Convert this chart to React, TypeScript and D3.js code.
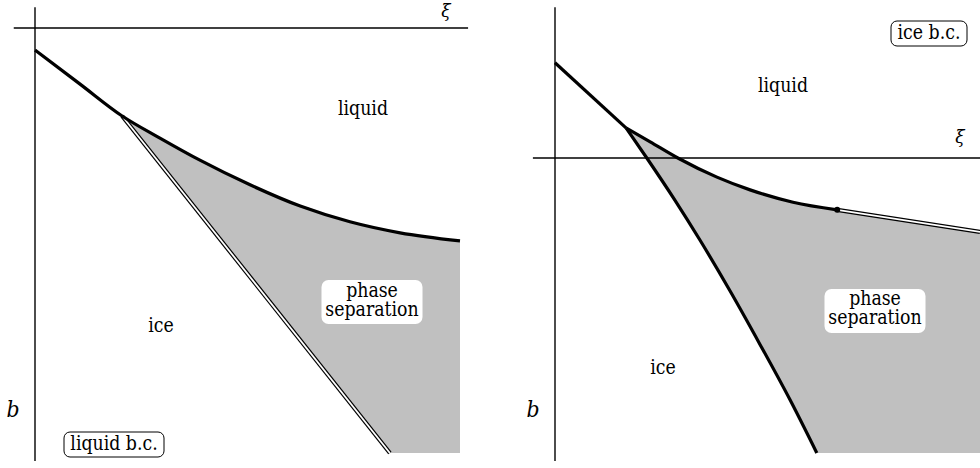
import { useEffect, useRef } from 'react';
import * as d3 from 'd3';

type Pt = [number, number];

// left panel (liquid boundary condition), coordinates in (xi, b) units
const leftLiquidus: Pt[] = [
  [0, 0.052], [0.106, 0.132], [0.205, 0.207], [0.294, 0.259], [0.388, 0.311],
  [0.506, 0.369], [0.624, 0.419], [0.741, 0.456], [0.859, 0.482], [1.0, 0.501],
];
const leftTangentIdx = 2;
const leftSolidus: Pt[] = [[0.205, 0.207], [0.835, 1.0]];
const leftFloor = 1.0;

// right panel (ice boundary condition)
const rightLiquidusA: Pt[] = [[0, -0.224], [0.167, -0.071]];
const rightLiquidusB: Pt[] = [
  [0.167, -0.071], [0.224, -0.038], [0.289, 0], [0.381, 0.045], [0.459, 0.075],
  [0.56, 0.104], [0.664, 0.122],
];
const rightMetastable: Pt[] = [[0.664, 0.122], [1.0, 0.174]];
const rightSolidus: Pt[] = [
  [0.167, -0.071], [0.216, 0], [0.282, 0.099], [0.341, 0.193], [0.412, 0.313],
  [0.482, 0.438], [0.553, 0.569], [0.616, 0.694],
];
const rightFloor = 0.694;

const FONT = '"DejaVu Serif", "Noto Serif", serif';
const GREY = '#c0c0c0';

export default function App() {
  const ref = useRef<SVGSVGElement>(null);

  useEffect(() => {
    if (!ref.current) return;
    const svg = d3.select(ref.current);
    svg.selectAll('*').remove();

    const unit = 425;

    const panel = (ox: number, oy: number, xExt: Pt, yExt: Pt) => {
      const x = d3.scaleLinear().domain([0, 1]).range([ox, ox + unit]);
      const y = d3.scaleLinear().domain([0, 1]).range([oy, oy + unit]);
      const g = svg.append('g');
      const line = d3
        .line<Pt>()
        .x((d) => x(d[0]))
        .y((d) => y(d[1]))
        .curve(d3.curveMonotoneX);
      const straight = d3
        .line<Pt>()
        .x((d) => x(d[0]))
        .y((d) => y(d[1]));
      return { x, y, g, line, straight, xExt, yExt };
    };
    type Panel = ReturnType<typeof panel>;

    const drawAxes = (p: Panel) => {
      p.g.append('line')
        .attr('x1', p.x(p.xExt[0])).attr('x2', p.x(p.xExt[1]))
        .attr('y1', p.y(0)).attr('y2', p.y(0))
        .attr('stroke', '#000').attr('stroke-width', 1.4);
      p.g.append('line')
        .attr('x1', p.x(0)).attr('x2', p.x(0))
        .attr('y1', p.y(p.yExt[0])).attr('y2', p.y(p.yExt[1]))
        .attr('stroke', '#000').attr('stroke-width', 1.4);
    };

    const doubleLine = (p: Panel, pts: Pt[]) => {
      p.g.append('path').attr('d', p.straight(pts)).attr('fill', 'none')
        .attr('stroke', '#000').attr('stroke-width', 4.2);
      p.g.append('path').attr('d', p.straight(pts)).attr('fill', 'none')
        .attr('stroke', '#fff').attr('stroke-width', 1.8);
    };

    const thick = (p: Panel, pts: Pt[], curve = true) => {
      p.g.append('path').attr('d', curve ? p.line(pts) : p.straight(pts)).attr('fill', 'none')
        .attr('stroke', '#000').attr('stroke-width', 3.2)
        .attr('stroke-linejoin', 'round');
    };

    // DejaVu Serif is wider than Times, so squeeze it a little horizontally
    const label = (p: Panel, lines: string[], cx: number, base: number,
      opts: { box?: 'plain' | 'framed'; italic?: boolean; size?: number; w?: number; h?: number; top?: number } = {}) => {
      const size = opts.size ?? 19.5;
      if (opts.box) {
        p.g.append('rect')
          .attr('x', cx - (opts.w ?? 0) / 2).attr('y', opts.top ?? 0)
          .attr('width', opts.w ?? 0).attr('height', opts.h ?? 0)
          .attr('rx', opts.box === 'framed' ? 6 : 7)
          .attr('fill', '#fff')
          .attr('stroke', opts.box === 'framed' ? '#000' : 'none')
          .attr('stroke-width', 1);
      }
      lines.forEach((t, i) => {
        p.g.append('text')
          .attr('transform', `translate(${cx},${base + i * 19}) scale(0.89,1)`)
          .attr('text-anchor', 'middle')
          .style('font-family', FONT)
          .attr('font-size', size)
          .attr('font-style', opts.italic ? 'italic' : 'normal')
          .attr('fill', '#000')
          .text(t);
      });
    };

    // ---------- left panel ----------
    const L = panel(35, 28, [-0.05, 1.019], [-0.049, 1.019]);
    const upperL = leftLiquidus.slice(leftTangentIdx);
    const fillL =
      L.line(upperL) +
      `L${L.x(1)},${L.y(leftFloor)}L${L.x(leftSolidus[1][0])},${L.y(leftFloor)}` +
      `L${L.x(leftSolidus[0][0])},${L.y(leftSolidus[0][1])}Z`;
    L.g.append('path').attr('d', fillL).attr('fill', GREY);
    drawAxes(L);
    doubleLine(L, leftSolidus);
    thick(L, leftLiquidus);

    label(L, ['\u03BE'], 446, 17, { italic: true, size: 19 });
    label(L, ['b'], 13, 417, { italic: true, size: 23 });
    label(L, ['liquid'], 363, 115);
    label(L, ['ice'], 161, 332);
    label(L, ['phase', 'separation'], 372, 297, { box: 'plain', w: 101, h: 44, top: 280 });
    label(L, ['liquid b.c.'], 114, 450, { box: 'framed', w: 100, h: 25, top: 432 });

    // ---------- right panel ----------
    const R = panel(555, 158, [-0.052, 1.0], [-0.355, 0.713]);
    const lowerRev = rightSolidus.slice().reverse();
    const fillR =
      R.line(rightLiquidusB) +
      `L${R.x(rightMetastable[1][0])},${R.y(rightMetastable[1][1])}` +
      `L${R.x(1)},${R.y(rightFloor)}` +
      (R.line(lowerRev) as string).replace(/^M/, 'L') + 'Z';
    R.g.append('path').attr('d', fillR).attr('fill', GREY);
    drawAxes(R);
    doubleLine(R, rightMetastable);
    thick(R, rightLiquidusA, false);
    thick(R, rightLiquidusB);
    thick(R, rightSolidus);
    const end = rightLiquidusB[rightLiquidusB.length - 1];
    R.g.append('circle').attr('cx', R.x(end[0])).attr('cy', R.y(end[1]))
      .attr('r', 3).attr('fill', '#000');

    label(R, ['\u03BE'], 960, 143, { italic: true, size: 19 });
    label(R, ['b'], 533, 417, { italic: true, size: 23 });
    label(R, ['liquid'], 783, 92);
    label(R, ['ice'], 663, 374);
    label(R, ['phase', 'separation'], 875, 305, { box: 'plain', w: 101, h: 44, top: 289 });
    label(R, ['ice b.c.'], 929, 39, { box: 'framed', w: 76, h: 25, top: 21 });
  }, []);

  return (
    <svg
      ref={ref}
      width={980}
      height={468}
      style={{ position: 'absolute', left: 0, top: 0, background: '#fff' }}
    />
  );
}
